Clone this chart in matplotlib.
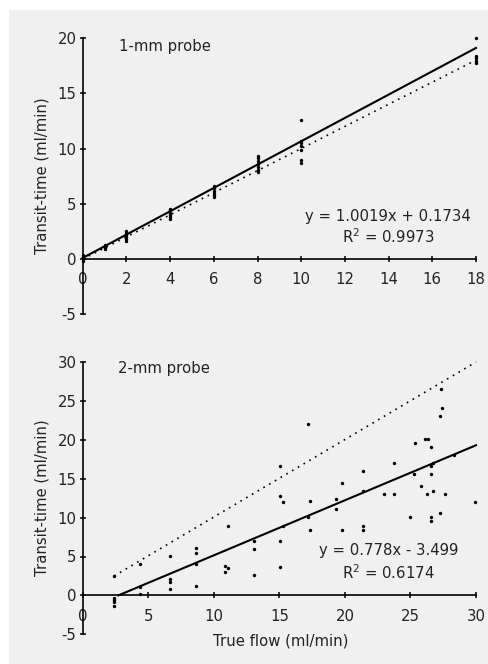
import matplotlib
matplotlib.use("Agg")
import matplotlib.pyplot as plt
from matplotlib.patches import Rectangle

plt.rcParams['font.family'] = ['DejaVu Sans']
plt.rcParams['mathtext.default'] = 'regular'
plt.rcParams['axes.unicode_minus'] = False

# ---------------- data ----------------
# 1-mm probe
top_x = [0, 0, 0, 0,
         1, 1, 1, 1, 1,
         2, 2, 2, 2, 2, 2,
         4, 4, 4, 4, 4, 4,
         6, 6, 6, 6, 6, 6,
         8, 8, 8, 8, 8, 8, 8,
         10, 10, 10, 10, 10, 10, 10,
         18, 18, 18, 18, 18]
top_y = [-0.2, 0.0, 0.2, 0.4,
         0.9, 1.0, 1.1, 1.2, 1.3,
         1.6, 1.8, 2.0, 2.2, 2.4, 2.5,
         3.6, 3.8, 4.0, 4.2, 4.4, 4.5,
         5.6, 5.8, 6.0, 6.2, 6.4, 6.6,
         7.9, 8.1, 8.3, 8.6, 8.9, 9.1, 9.3,
         8.7, 9.0, 9.9, 10.2, 10.5, 10.7, 12.6,
         17.7, 17.9, 18.2, 18.4, 20.0]
top_fit_x = [0, 18]
top_fit_y = [0.1, 19.1]
top_id_x = [0, 18]
top_id_y = [0, 18]
top_eq = "y = 1.0019x + 0.1734"
top_r2 = "R$^2$ = 0.9973"
top_xticks = [0, 2, 4, 6, 8, 10, 12, 14, 16, 18]
top_yticks = [-5, 0, 5, 10, 15, 20]

# 2-mm probe
bot_x = [2.42, 2.4, 2.4, 2.4, 2.4,
         4.4, 4.4, 4.4,
         6.69, 6.69, 6.69, 6.69,
         8.67, 8.67, 8.67, 8.67,
         11.06, 10.86, 11.06, 10.86,
         13.07, 13.07, 13.07,
         15.03, 15.03, 15.3, 15.3, 15.03, 15.03,
         17.21, 17.34, 17.2, 17.34,
         19.3, 19.3, 19.78, 19.8,
         21.38, 21.38, 21.38, 21.38,
         23.0, 23.77, 23.77,
         24.99, 25.35, 25.27, 25.78, 26.1, 26.37, 26.26,
         26.54, 26.54, 26.54, 26.54, 26.54, 26.75, 26.75,
         27.31, 27.38, 27.26, 27.26, 27.66, 28.33, 29.93]
bot_y = [2.53, -0.3, -0.6, -0.8, -1.3,
         4.07, 1.1, 0.17,
         5.06, 2.14, 1.7, 0.77,
         6.04, 5.5, 4.03, 1.2,
         8.96, 3.81, 3.5, 2.96,
         7.03, 5.96, 2.66,
         16.59, 12.8, 12.0, 8.96, 7.03, 3.64,
         22.07, 12.17, 10.03, 8.36,
         12.39, 11.06, 14.49, 8.44,
         16.03, 13.46, 8.96, 8.44,
         13.03, 17.06, 13.03,
         10.03, 19.59, 15.56, 14.0, 20.06, 20.06, 13.03,
         19.07, 16.67, 15.56, 10.03, 9.5, 17.06, 13.46,
         26.5, 24.04, 23.0, 10.54, 13.03, 18.09, 12.0]
bot_fit_x = [2.72, 30]
bot_fit_y = [0, 19.3]
bot_id_x = [2.4, 30]
bot_id_y = [2.5, 30]
bot_eq = "y = 0.778x - 3.499"
bot_r2 = "R$^2$ = 0.6174"
bot_xticks = [0, 5, 10, 15, 20, 25, 30]
bot_yticks = [-5, 0, 5, 10, 15, 20, 25, 30]

# ---------------- figure ----------------
W, H = 489, 664
fig = plt.figure(figsize=(W / 100, H / 100), dpi=100, facecolor='white')
fig.patches.append(Rectangle((9 / W, 0), 1 - 9 / W, 1 - 10 / H,
                             transform=fig.transFigure, facecolor='#f0f0f0',
                             edgecolor='none', zorder=-10))

TXT = '#222222'
FS = 10.7


def px_axes(x0, y_top, x1, y_bot):
    return [x0 / W, 1 - y_bot / H, (x1 - x0) / W, (y_bot - y_top) / H]


def style(ax, xlim, ylim, xticks, yticks):
    ax.set_facecolor('none')
    ax.set_xlim(*xlim)
    ax.set_ylim(*ylim)
    for s in ('top', 'right'):
        ax.spines[s].set_visible(False)
    ax.spines['bottom'].set_position(('data', 0))
    ax.spines['left'].set_linewidth(1.2)
    ax.spines['bottom'].set_linewidth(1.2)
    ax.set_xticks(xticks)
    ax.set_yticks(yticks)
    ax.tick_params(axis='both', direction='inout', length=5, width=1.1,
                   labelsize=FS, labelcolor=TXT, color='black')
    ax.tick_params(axis='x', pad=7)
    ax.tick_params(axis='y', pad=2)


# top panel
ax1 = fig.add_axes(px_axes(82.7, 38, 476, 314.3))
style(ax1, (0, 18), (-5, 20), top_xticks, top_yticks)
ax1.plot(top_id_x, top_id_y, color='black', lw=1.2, ls=(0, (1, 3)), clip_on=False)
ax1.plot(top_fit_x, top_fit_y, color='black', lw=1.5, clip_on=False)
ax1.scatter(top_x, top_y, s=6, color='black', linewidths=0, clip_on=False, zorder=3)

# bottom panel
ax2 = fig.add_axes(px_axes(82.7, 362, 476, 634.3))
style(ax2, (0, 30), (-5, 30), bot_xticks, bot_yticks)
ax2.plot(bot_id_x, bot_id_y, color='black', lw=1.2, ls=(0, (1, 3)), clip_on=False)
ax2.plot(bot_fit_x, bot_fit_y, color='black', lw=1.5, clip_on=False)
ax2.scatter(bot_x, bot_y, s=6, color='black', linewidths=0, clip_on=False, zorder=3)

# texts
def ftext(x, y, s, **kw):
    fig.text(x / W, 1 - y / H, s, fontsize=FS, color=TXT, **kw)

ftext(119, 46, "1-mm probe", ha='left', va='center')
ftext(388, 216, top_eq, ha='center', va='center')
ftext(388, 237, top_r2, ha='center', va='center')
ftext(118, 369, "2-mm probe", ha='left', va='center')
ftext(389, 551, bot_eq, ha='center', va='center')
ftext(388, 573, bot_r2, ha='center', va='center')
ftext(42, 176, "Transit-time (ml/min)", ha='center', va='center', rotation=90)
ftext(42, 498, "Transit-time (ml/min)", ha='center', va='center', rotation=90)
ftext(281, 641, "True flow (ml/min)", ha='center', va='center')

fig.savefig("out.png", dpi=100, facecolor='white')
